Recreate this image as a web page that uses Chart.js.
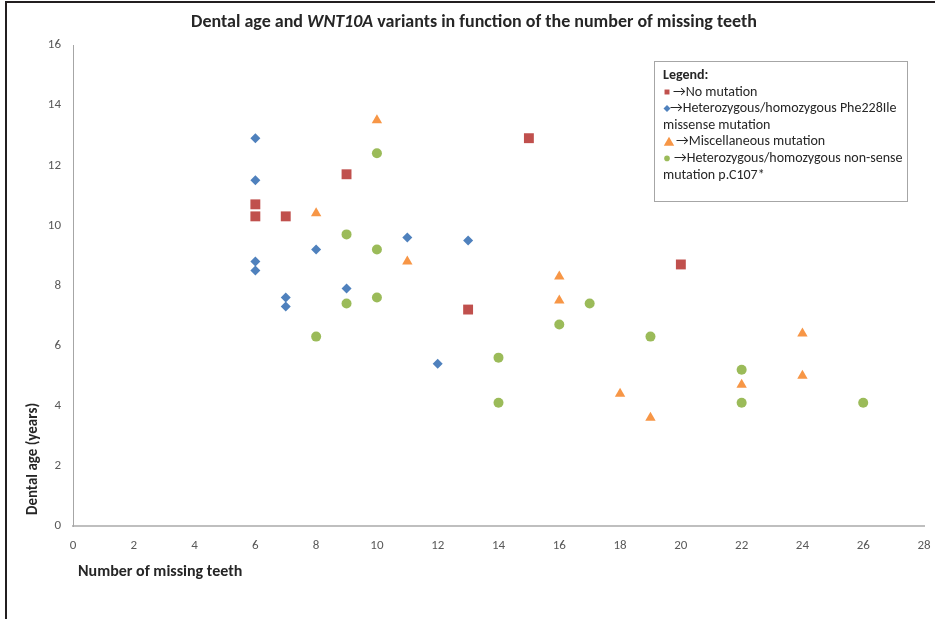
<!DOCTYPE html>
<html>
<head>
<meta charset="utf-8">
<script src="https://cdn.jsdelivr.net/npm/chart.js@4"></script>
<style>
  body { margin: 0; background: #fff; overflow: hidden; }
  #wrap { position: relative; width: 935px; height: 619px; }
  #myChart { display: block; }
  #frame { position: absolute; left: 5px; top: 1px; right: 0; bottom: 0;
           border-left: 2px solid #231f20; border-top: 2px solid #231f20; pointer-events: none; }
</style>
</head>
<body>
<div id="wrap">
  <canvas id="myChart" width="935" height="619"></canvas>
  <div id="frame"></div>
</div>
<script>
const FONT = 'Carlito, "Liberation Sans", Arial, sans-serif';

// number of missing teeth / dental age (years), per group
const noMutX = [6, 6, 7, 9, 13, 15, 20];
const noMutY = [10.7, 10.3, 10.3, 11.7, 7.2, 12.9, 8.7];

const pheX = [6, 6, 6, 6, 7, 7, 8, 9, 11, 12, 13];
const pheY = [12.9, 11.5, 8.8, 8.5, 7.6, 7.3, 9.2, 7.9, 9.6, 5.4, 9.5];

const miscX = [8, 10, 11, 16, 16, 18, 19, 22, 24, 24];
const miscY = [10.4, 13.5, 8.8, 8.3, 7.5, 4.4, 3.6, 4.7, 6.4, 5.0];

const nonX = [8, 9, 9, 10, 10, 10, 14, 14, 16, 17, 19, 22, 22, 26];
const nonY = [6.3, 9.7, 7.4, 12.4, 9.2, 7.6, 5.6, 4.1, 6.7, 7.4, 6.3, 5.2, 4.1, 4.1];

const xTicks = [0, 2, 4, 6, 8, 10, 12, 14, 16, 18, 20, 22, 24, 26, 28];
const yTicks = [0, 2, 4, 6, 8, 10, 12, 14, 16];

const legendLines = [
  { text: '→No mutation', marker: 0 },
  { text: '→Heterozygous/homozygous Phe228Ile', marker: 1 },
  { text: 'missense mutation' },
  { text: '→Miscellaneous mutation', marker: 2 },
  { text: '→Heterozygous/homozygous non-sense', marker: 3 },
  { text: 'mutation p.C107*' }
];

function pts(xs, ys) {
  return xs.map((x, i) => ({ x: x, y: ys[i] }));
}

// title, axis titles and the text-box legend
const decorPlugin = {
  id: 'decor',
  afterDraw(chart) {
    const ctx = chart.ctx;
    ctx.save();
    ctx.fillStyle = '#262626';
    ctx.textBaseline = 'middle';

    // title with italic gene name
    const parts = [
      ['bold 18px ' + FONT, 'Dental age and '],
      ['italic bold 18px ' + FONT, 'WNT10A'],
      ['bold 18px ' + FONT, ' variants in function of the number of missing teeth']
    ];
    let total = 0;
    parts.forEach(p => { ctx.font = p[0]; total += ctx.measureText(p[1]).width; });
    let tx = 474 - total / 2;
    ctx.textAlign = 'left';
    parts.forEach(p => {
      ctx.font = p[0];
      ctx.fillText(p[1], tx, 22);
      tx += ctx.measureText(p[1]).width;
    });

    // axis titles
    ctx.font = 'bold 16px ' + FONT;
    ctx.fillText('Number of missing teeth', 78, 572);
    ctx.save();
    ctx.translate(33, 459);
    ctx.rotate(-Math.PI / 2);
    ctx.textAlign = 'center';
    ctx.font = 'bold 15px ' + FONT;
    ctx.fillText('Dental age (years)', 0, 0);
    ctx.restore();

    // legend box
    ctx.fillStyle = '#fff';
    ctx.fillRect(654, 61, 253, 140);
    ctx.strokeStyle = '#a6a6a6';
    ctx.lineWidth = 1;
    ctx.strokeRect(654.5, 61.5, 253, 140);

    ctx.fillStyle = '#262626';
    ctx.textAlign = 'left';
    ctx.font = 'bold 14px ' + FONT;
    ctx.fillText('Legend:', 663, 75);

    ctx.font = '14px ' + FONT;
    let y = 92;
    legendLines.forEach(line => {
      let x = 663;
      if (line.marker !== undefined) {
        const ds = chart.data.datasets[line.marker];
        const r = [3.5, 3.5, 6, 2.8][line.marker];
        ctx.fillStyle = ds.backgroundColor;
        Chart.helpers.drawPoint(ctx, {
          pointStyle: ds.pointStyle,
          radius: r,
          borderWidth: 0
        }, 667 + (line.marker === 2 ? 2 : 0), y + (line.marker === 2 ? 1 : 0));
        x = [673, 670, 676, 674][line.marker];
      }
      ctx.fillStyle = '#262626';
      ctx.fillText(line.text, x, y);
      y += 16.6;
    });
    ctx.restore();
  }
};

const ctx = document.getElementById('myChart').getContext('2d');
const chart = new Chart(ctx, {
  type: 'scatter',
  data: {
    datasets: [
      {
        label: 'No mutation',
        data: pts(noMutX, noMutY),
        pointStyle: 'rect',
        pointRadius: 7,
        backgroundColor: '#c0504d',
        borderColor: '#c0504d',
        borderWidth: 0
      },
      {
        label: 'Heterozygous/homozygous Phe228Ile missense mutation',
        data: pts(pheX, pheY),
        pointStyle: 'rectRot',
        pointRadius: 5,
        backgroundColor: '#4f81bd',
        borderColor: '#4f81bd',
        borderWidth: 0
      },
      {
        label: 'Miscellaneous mutation',
        data: pts(miscX, miscY),
        pointStyle: 'triangle',
        pointRadius: 6,
        backgroundColor: '#f79646',
        borderColor: '#f79646',
        borderWidth: 0
      },
      {
        label: 'Heterozygous/homozygous non-sense mutation p.C107*',
        data: pts(nonX, nonY),
        pointStyle: 'circle',
        pointRadius: 5,
        backgroundColor: '#9bbb59',
        borderColor: '#9bbb59',
        borderWidth: 0
      }
    ]
  },
  options: {
    responsive: false,
    animation: false,
    layout: { padding: { top: 45, right: 11, bottom: 0, left: 0 } },
    plugins: {
      legend: { display: false },
      title: { display: false },
      tooltip: { enabled: false }
    },
    scales: {
      x: {
        type: 'linear',
        min: 0,
        max: 28,
        afterBuildTicks: s => { s.ticks = xTicks.map(v => ({ value: v })); },
        afterFit: s => { s.height = 93; s.paddingLeft = 0; s.paddingRight = 0; },
        grid: { display: true, drawOnChartArea: false, drawTicks: false },
        border: { color: '#bfbfbf', width: 2 },
        ticks: { color: '#595959', padding: 12, font: { family: FONT, size: 13 }, maxRotation: 0 }
      },
      y: {
        type: 'linear',
        min: 0,
        max: 16,
        afterBuildTicks: s => { s.ticks = yTicks.map(v => ({ value: v })); },
        afterFit: s => { s.width = 73; s.paddingTop = 0; s.paddingBottom = 0; },
        grid: { display: true, drawOnChartArea: false, drawTicks: false },
        border: { color: '#a6a6a6', width: 1 },
        ticks: { color: '#595959', padding: 12, font: { family: FONT, size: 13 } }
      }
    }
  },
  plugins: [decorPlugin]
});
</script>
</body>
</html>
